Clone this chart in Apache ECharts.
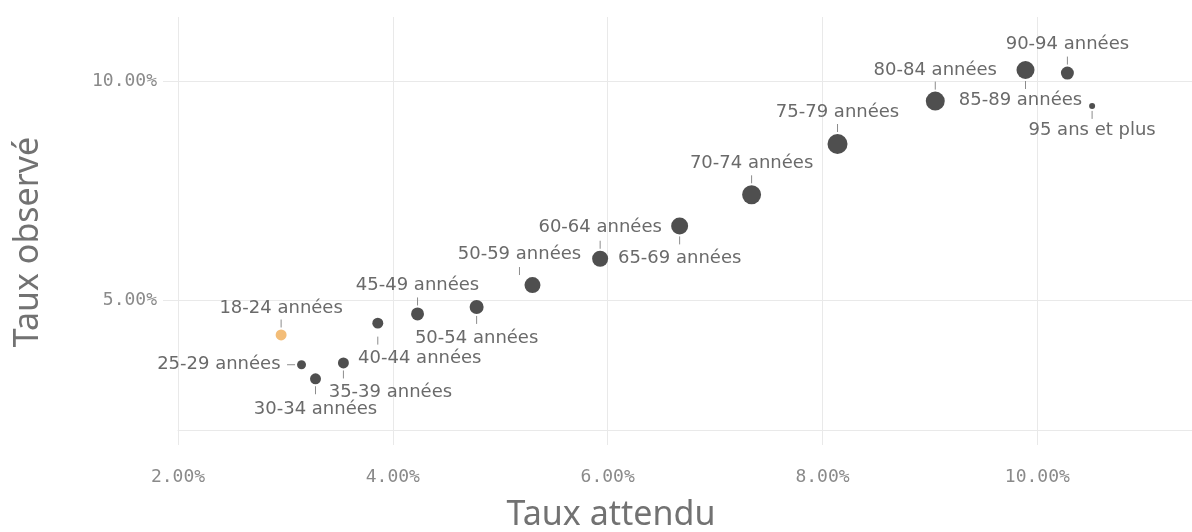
<!DOCTYPE html>
<html>
<head>
<meta charset="utf-8">
<script src="https://cdn.jsdelivr.net/npm/echarts@6/dist/echarts.min.js"></script>
<style>html,body{margin:0;padding:0;background:#fff}#c{width:1192px;height:532px}</style>
</head>
<body>
<div id="c"></div>
<script>
// ---- data ----
const categories = ['18-24 années','25-29 années','30-34 années','35-39 années','40-44 années','45-49 années','50-54 années','50-59 années','60-64 années','65-69 années','70-74 années','75-79 années','80-84 années','85-89 années','90-94 années','95 ans et plus'];
const tauxAttendu = [2.96, 3.15, 3.28, 3.54, 3.86, 4.23, 4.78, 5.30, 5.93, 6.67, 7.34, 8.14, 9.05, 9.89, 10.28, 10.51];
const tauxObserve = [4.20, 3.52, 3.20, 3.56, 4.47, 4.68, 4.84, 5.34, 5.94, 6.69, 7.40, 8.56, 9.54, 10.25, 10.18, 9.43];
const poids = [30, 20, 30, 30, 30, 42, 49, 64, 64, 72, 90, 100, 90, 81, 42, 9];
const highlighted = '18-24 années';
const xTicks = [2, 4, 6, 8, 10];
const yTicks = [5, 10];
const xTitle = 'Taux attendu';
const yTitle = 'Taux observé';

// ---- label placement (style) ----
const placement = {
  '18-24 années': {side: 'top', dx: 0, dy: -27},
  '25-29 années': {side: 'left', dx: -21, dy: 0},
  '30-34 années': {side: 'bottom', dx: 0, dy: 31},
  '35-39 années': {side: 'bottom', dx: 47, dy: 29},
  '40-44 années': {side: 'bottom', dx: 42, dy: 35, gap: 8},
  '45-49 années': {side: 'top', dx: 0, dy: -29},
  '50-54 années': {side: 'bottom', dx: 0, dy: 31},
  '50-59 années': {side: 'top', dx: -13, dy: -31, lx: -13},
  '60-64 années': {side: 'top', dx: 0, dy: -31},
  '65-69 années': {side: 'bottom', dx: 0, dy: 32},
  '70-74 années': {side: 'top', dx: 0, dy: -31},
  '75-79 années': {side: 'top', dx: 0, dy: -32},
  '80-84 années': {side: 'top', dx: 0, dy: -31},
  '85-89 années': {side: 'bottom', dx: -5, dy: 30},
  '90-94 années': {side: 'top', dx: 0, dy: -29},
  '95 ans et plus': {side: 'bottom', dx: 0, dy: 24}
};

const sizeOf = w => 2 * Math.sqrt(w);
const GRID = '#e9e9e9';

const points = categories.map((c, i) => {
  const pl = placement[c];
  return {
    name: c,
    value: [tauxAttendu[i], tauxObserve[i], i],
    symbolSize: sizeOf(poids[i]),
    itemStyle: {color: c === highlighted ? '#f3bd78' : '#4f4f4f', opacity: 1},
    label: {
      show: true,
      position: 'inside',
      offset: [pl.dx, pl.dy],
      align: pl.side === 'left' ? 'right' : 'center',
      verticalAlign: 'middle'
    }
  };
});

const chart = echarts.init(document.getElementById('c'), null, {renderer: 'canvas'});
chart.setOption({
  animation: false,
  backgroundColor: '#ffffff',
  grid: {left: 178, right: 0, top: 17, bottom: 102, containLabel: false},
  xAxis: {
    type: 'value', min: 2, max: 11.44,
    axisLine: {show: true, lineStyle: {color: GRID, width: 1}},
    axisTick: {show: true, length: 15, lineStyle: {color: GRID}, customValues: xTicks},
    splitLine: {show: true, lineStyle: {color: GRID, width: 1}},
    axisLabel: {
      customValues: xTicks, margin: 38,
      formatter: v => v.toFixed(2) + '%',
      color: '#8a8a8a', fontFamily: 'DejaVu Sans Mono', fontSize: 18
    }
  },
  yAxis: {
    type: 'value', min: 2.03, max: 11.46,
    axisLine: {show: false},
    axisTick: {show: true, length: 15, lineStyle: {color: GRID}, customValues: yTicks},
    splitLine: {show: true, lineStyle: {color: GRID, width: 1}},
    axisLabel: {
      customValues: yTicks, margin: 21,
      formatter: v => v.toFixed(2) + '%',
      color: '#8a8a8a', fontFamily: 'DejaVu Sans Mono', fontSize: 18
    }
  },
  graphic: [
    {type: 'text', x: 611, y: 515, silent: true,
     style: {text: xTitle, font: '34px "Noto Sans"', fill: '#727272', textAlign: 'center', textVerticalAlign: 'middle'}},
    {type: 'text', x: 28, y: 242, rotation: Math.PI / 2, silent: true,
     style: {text: yTitle, font: '34px "Noto Sans"', fill: '#727272', textAlign: 'center', textVerticalAlign: 'middle'}}
  ],
  series: [
    {
      type: 'custom',
      silent: true,
      z: 1,
      data: categories.map((c, i) => [tauxAttendu[i], tauxObserve[i], i]),
      renderItem: function (params, api) {
        const i = api.value(2);
        const p = api.coord([api.value(0), api.value(1)]);
        const r = sizeOf(poids[i]) / 2;
        const pl = placement[categories[i]];
        const gap = pl.gap || 2;
        const lx = pl.lx || 0;
        let x1, y1, x2, y2;
        if (pl.side === 'top') {
          const base = lx ? 8 : r;
          x1 = x2 = p[0] + lx; y1 = p[1] - base - gap; y2 = y1 - 8;
        } else if (pl.side === 'bottom') {
          x1 = x2 = p[0] + lx; y1 = p[1] + r + gap; y2 = y1 + 8;
        } else {
          y1 = y2 = p[1]; x1 = p[0] - r - 2; x2 = x1 - 8;
        }
        return {type: 'line', shape: {x1, y1, x2, y2}, style: {stroke: '#8c8c8c', lineWidth: 1}};
      }
    },
    {
      type: 'scatter',
      z: 2,
      data: points,
      label: {
        formatter: p => p.name,
        color: '#6a6a6a', fontFamily: 'DejaVu Sans', fontSize: 18
      },
      emphasis: {disabled: true}
    }
  ]
});
</script>
</body>
</html>
